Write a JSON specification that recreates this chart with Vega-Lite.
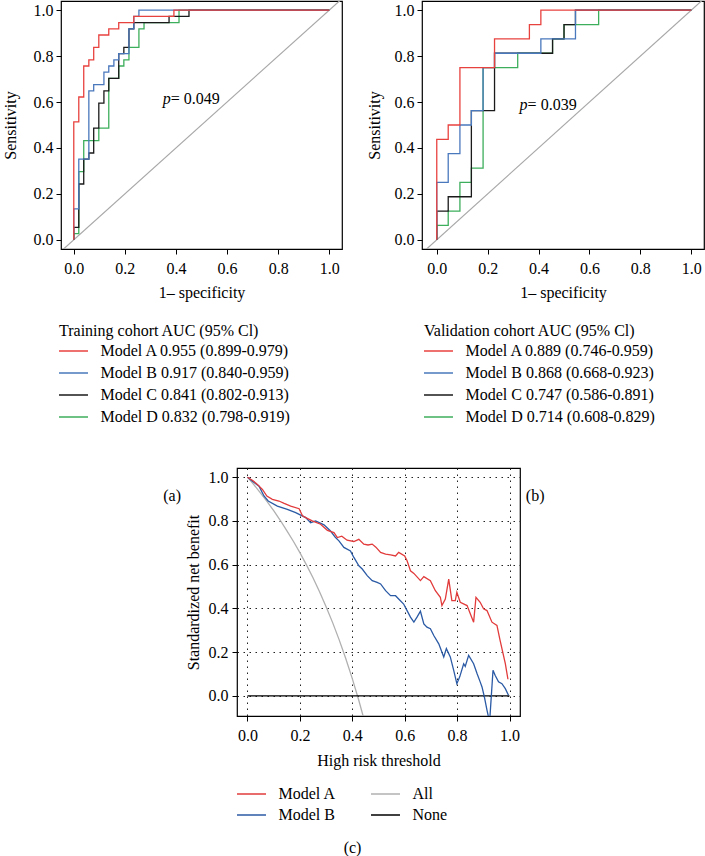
{
  "$schema": "https://vega.github.io/schema/vega-lite/v6.json",
  "background": "white",
  "padding": {"left": 1, "top": 0, "right": 0, "bottom": 0},
  "config": {
    "font": "Liberation Serif",
    "view": {"stroke": "black", "strokeWidth": 1.2},
    "axis": {
      "labelFont": "Liberation Serif", "labelFontSize": 16, "labelColor": "black",
      "titleFont": "Liberation Serif", "titleFontSize": 16, "titleFontWeight": "normal", "titleColor": "black",
      "tickColor": "black", "tickSize": 5, "tickWidth": 1, "domain": false, "grid": false, "labelFlush": false
    },
    "legend": {
      "orient": "none",
      "labelFont": "Liberation Serif", "labelFontSize": 16, "labelColor": "black",
      "titleFont": "Liberation Serif", "titleFontSize": 16, "titleFontWeight": "normal", "titleColor": "black",
      "symbolType": "M-2,0H2", "symbolSize": 210, "symbolStrokeWidth": 1.5, "symbolOffset": 6.5,
      "labelLimit": 400, "titleLimit": 400, "labelOffset": 19, "rowPadding": 6, "titlePadding": 4
    },
    "title": {"font": "Liberation Serif", "fontSize": 16, "fontWeight": "normal", "color": "black", "orient": "bottom", "frame": "bounds", "anchor": "middle"}
  },
  "datasets": {
    "train": [
      {"m": "Model D 0.832 (0.798-0.919)", "x": [0,0,0.0196,0.039,0.098,0.137,0.137,0.176,0.196,0.216,0.255,0.275,0.412,1], "y": [0,0.027,0.297,0.432,0.486,0.595,0.703,0.757,0.784,0.838,0.919,0.946,1,1]},
      {"m": "Model C 0.841 (0.802-0.913)", "x": [0,0,0.0196,0.039,0.059,0.078,0.098,0.118,0.137,0.176,0.196,0.216,0.235,0.373,0.451,1], "y": [0,0.054,0.243,0.351,0.378,0.486,0.595,0.649,0.703,0.811,0.838,0.919,0.946,0.973,1,1]},
      {"m": "Model B 0.917 (0.840-0.959)", "x": [0,0,0.0196,0.059,0.078,0.118,0.137,0.157,0.176,0.216,0.235,0.255,1], "y": [0,0.135,0.351,0.649,0.676,0.73,0.757,0.784,0.811,0.919,0.973,1,1]},
      {"m": "Model A 0.955 (0.899-0.979)", "x": [0,0,0.0196,0.039,0.059,0.078,0.098,0.137,0.176,0.235,0.392,1], "y": [0,0.514,0.622,0.757,0.784,0.838,0.892,0.919,0.946,0.973,1,1]}
    ],
    "valid": [
      {"m": "Model D 0.714 (0.608-0.829)", "x": [0,0,0.045,0.091,0.136,0.182,0.318,0.455,0.5,0.636,1], "y": [0,0.0625,0.125,0.25,0.3125,0.75,0.8125,0.875,0.9375,1,1]},
      {"m": "Model C 0.747 (0.586-0.891)", "x": [0,0,0.045,0.136,0.227,0.455,0.5,0.545,1], "y": [0,0.125,0.1875,0.5625,0.8125,0.875,0.9375,1,1]},
      {"m": "Model B 0.868 (0.668-0.923)", "x": [0,0,0.045,0.091,0.136,0.182,0.227,0.409,0.545,1], "y": [0,0.25,0.375,0.5,0.5625,0.75,0.8125,0.875,1,1]},
      {"m": "Model A 0.889 (0.746-0.959)", "x": [0,0,0.045,0.091,0.227,0.364,0.409,1], "y": [0,0.4375,0.5,0.75,0.875,0.9375,1,1]}
    ],
    "dca": [
      {"m": "All", "x": [0,0.025,0.05,0.075,0.1,0.125,0.15,0.175,0.2,0.225,0.25,0.275,0.3,0.325,0.35,0.375,0.4,0.425,0.45], "y": [1,0.965,0.927,0.888,0.847,0.803,0.756,0.707,0.655,0.599,0.54,0.476,0.408,0.335,0.256,0.171,0.079,-0.021,-0.13]},
      {"m": "None", "x": [0,1], "y": [0,0]},
      {"m": "Model B", "x": [0,0.02,0.044,0.063,0.079,0.114,0.152,0.184,0.222,0.241,0.26,0.292,0.317,0.336,0.349,0.368,0.393,0.406,0.425,0.438,0.457,0.476,0.495,0.508,0.527,0.546,0.565,0.577,0.596,0.609,0.622,0.635,0.647,0.66,0.673,0.685,0.698,0.711,0.73,0.749,0.759,0.774,0.787,0.799,0.81,0.825,0.831,0.844,0.863,0.876,0.888,0.895,0.904,0.914,0.924,0.937,0.945,0.958,0.971,0.984,0.996], "y": [1,0.98,0.959,0.914,0.891,0.868,0.853,0.838,0.815,0.792,0.8,0.782,0.754,0.724,0.709,0.679,0.663,0.633,0.595,0.58,0.55,0.527,0.519,0.512,0.481,0.458,0.458,0.443,0.42,0.39,0.36,0.337,0.36,0.387,0.329,0.314,0.307,0.276,0.238,0.178,0.216,0.178,0.117,0.056,0.087,0.147,0.135,0.185,0.147,0.102,0.064,0.041,-0.005,-0.065,-0.12,0.117,0.094,0.064,0.056,0.033,0.003]},
      {"m": "Model A", "x": [0,0.02,0.038,0.057,0.074,0.095,0.12,0.14,0.165,0.197,0.21,0.228,0.247,0.279,0.305,0.33,0.343,0.36,0.38,0.406,0.425,0.444,0.46,0.476,0.49,0.508,0.527,0.546,0.565,0.577,0.6,0.609,0.622,0.635,0.66,0.673,0.698,0.717,0.736,0.742,0.755,0.768,0.78,0.793,0.799,0.812,0.838,0.863,0.872,0.888,0.901,0.914,0.933,0.952,0.964,0.984,0.994], "y": [1,0.985,0.967,0.944,0.914,0.899,0.891,0.88,0.868,0.856,0.823,0.812,0.8,0.785,0.757,0.747,0.724,0.73,0.712,0.706,0.716,0.694,0.69,0.694,0.68,0.656,0.648,0.645,0.64,0.656,0.64,0.618,0.572,0.56,0.527,0.545,0.527,0.481,0.451,0.413,0.443,0.534,0.436,0.436,0.474,0.428,0.413,0.337,0.451,0.428,0.398,0.39,0.337,0.322,0.254,0.147,0.076]}
    ]
  },
  "vconcat": [
    {
      "hconcat": [
        {
          "width": 281, "height": 248,
          "title": {"text": "(a)", "offset": 63},
          "encoding": {
            "x": {"field": "x", "type": "quantitative", "scale": {"domain": [-0.05, 1.05], "nice": false, "zero": false}, "axis": {"title": "1– specificity", "values": [0, 0.2, 0.4, 0.6, 0.8, 1], "format": ".1f", "labelPadding": 6, "titlePadding": 8}},
            "y": {"field": "y", "type": "quantitative", "scale": {"domain": [-0.04, 1.04], "nice": false, "zero": false}, "axis": {"title": "Sensitivity", "values": [0, 0.2, 0.4, 0.6, 0.8, 1], "format": ".1f", "labelPadding": 3, "titlePadding": 14.7}}
          },
          "layer": [
            {"data": {"values": [{"x": -0.2, "y": -0.2}, {"x": 1.2, "y": 1.2}]}, "mark": {"type": "line", "color": "#a8a8a8", "strokeWidth": 1.2, "clip": true}, "encoding": {}},
            {"data": {"name": "train"}, "transform": [{"flatten": ["x", "y"]}], "mark": {"type": "line", "interpolate": "step-after", "strokeWidth": 1.3, "clip": true},
             "encoding": {"color": {"field": "m", "type": "nominal", "scale": {"domain": ["Model A 0.955 (0.899-0.979)", "Model B 0.917 (0.840-0.959)", "Model C 0.841 (0.802-0.913)", "Model D 0.832 (0.798-0.919)"], "range": ["#e8423f", "#4a78bd", "#1a1a1a", "#3dae5b"]}, "legend": {"title": "Training cohort AUC (95% Cl)", "legendX": -2, "legendY": 322}}}},
            {"data": {"values": [{"x": 0.38, "y": 0.614, "t": "p"}]}, "mark": {"type": "text", "fontStyle": "italic", "align": "right", "baseline": "middle", "fontSize": 16, "font": "Liberation Serif", "color": "black"}, "encoding": {"text": {"field": "t"}}},
            {"data": {"values": [{"x": 0.38, "y": 0.614, "t": "= 0.049"}]}, "mark": {"type": "text", "align": "left", "baseline": "middle", "fontSize": 16, "font": "Liberation Serif", "color": "black"}, "encoding": {"text": {"field": "t"}}}
          ]
        },
        {
          "width": 282, "height": 248,
          "title": {"text": "(b)", "offset": 63},
          "encoding": {
            "x": {"field": "x", "type": "quantitative", "scale": {"domain": [-0.058, 1.05], "nice": false, "zero": false}, "axis": {"title": "1– specificity", "values": [0, 0.2, 0.4, 0.6, 0.8, 1], "format": ".1f", "labelPadding": 6, "titlePadding": 8}},
            "y": {"field": "y", "type": "quantitative", "scale": {"domain": [-0.04, 1.04], "nice": false, "zero": false}, "axis": {"title": "Sensitivity", "values": [0, 0.2, 0.4, 0.6, 0.8, 1], "format": ".1f", "labelPadding": 3, "titlePadding": 11.7}}
          },
          "layer": [
            {"data": {"values": [{"x": -0.2, "y": -0.2}, {"x": 1.2, "y": 1.2}]}, "mark": {"type": "line", "color": "#a8a8a8", "strokeWidth": 1.2, "clip": true}, "encoding": {}},
            {"data": {"name": "valid"}, "transform": [{"flatten": ["x", "y"]}], "mark": {"type": "line", "interpolate": "step-after", "strokeWidth": 1.3, "clip": true},
             "encoding": {"color": {"field": "m", "type": "nominal", "scale": {"domain": ["Model A 0.889 (0.746-0.959)", "Model B 0.868 (0.668-0.923)", "Model C 0.747 (0.586-0.891)", "Model D 0.714 (0.608-0.829)"], "range": ["#e8423f", "#4a78bd", "#1a1a1a", "#3dae5b"]}, "legend": {"title": "Validation cohort AUC (95% Cl)", "legendX": 2, "legendY": 322}}}},
            {"data": {"values": [{"x": 0.357, "y": 0.585, "t": "p"}]}, "mark": {"type": "text", "fontStyle": "italic", "align": "right", "baseline": "middle", "fontSize": 16, "font": "Liberation Serif", "color": "black"}, "encoding": {"text": {"field": "t"}}},
            {"data": {"values": [{"x": 0.357, "y": 0.585, "t": "= 0.039"}]}, "mark": {"type": "text", "align": "left", "baseline": "middle", "fontSize": 16, "font": "Liberation Serif", "color": "black"}, "encoding": {"text": {"field": "t"}}}
          ]
        }
      ],
      "spacing": 80,
      "bounds": "flush",
      "resolve": {"scale": {"color": "independent"}}
    },
    {
      "hconcat": [
        {
          "width": 96, "height": 10,
          "view": {"stroke": null},
          "data": {"values": []},
          "mark": {"type": "point", "opacity": 0}
        },
        {
          "width": 283, "height": 248,
          "title": {"text": "(c)", "offset": 16.5},
          "data": {"name": "dca"},
          "transform": [{"flatten": ["x", "y"]}],
          "mark": {"type": "line", "strokeWidth": 1.3, "clip": true},
          "encoding": {
            "x": {"field": "x", "type": "quantitative", "scale": {"domain": [-0.04, 1.04], "nice": false, "zero": false}, "axis": {"title": "High risk threshold", "values": [0, 0.2, 0.4, 0.6, 0.8, 1], "format": ".1f", "labelPadding": 6, "titlePadding": 9.5, "grid": true, "gridColor": "#222222", "gridDash": [1.5, 4.5], "gridWidth": 1}},
            "y": {"field": "y", "type": "quantitative", "scale": {"domain": [-0.092, 1.042], "nice": false, "zero": false}, "axis": {"title": "Standardized net benefit", "values": [0, 0.2, 0.4, 0.6, 0.8, 1], "format": ".1f", "labelPadding": 4, "titlePadding": 7, "grid": true, "gridColor": "#222222", "gridDash": [1.5, 4.5], "gridWidth": 1}},
            "color": {"field": "m", "type": "nominal", "scale": {"domain": ["Model A", "Model B", "All", "None"], "range": ["#e23b3b", "#2b5aa5", "#b0b0b0", "#000000"]}, "legend": {"title": null, "columns": 2, "columnPadding": 32, "rowPadding": 5, "legendX": 0, "legendY": 318}}
          }
        }
      ],
      "spacing": 80,
      "bounds": "flush",
      "resolve": {"scale": {"color": "independent"}}
    }
  ],
  "spacing": 467,
  "bounds": "flush",
  "resolve": {"scale": {"color": "independent"}}
}
